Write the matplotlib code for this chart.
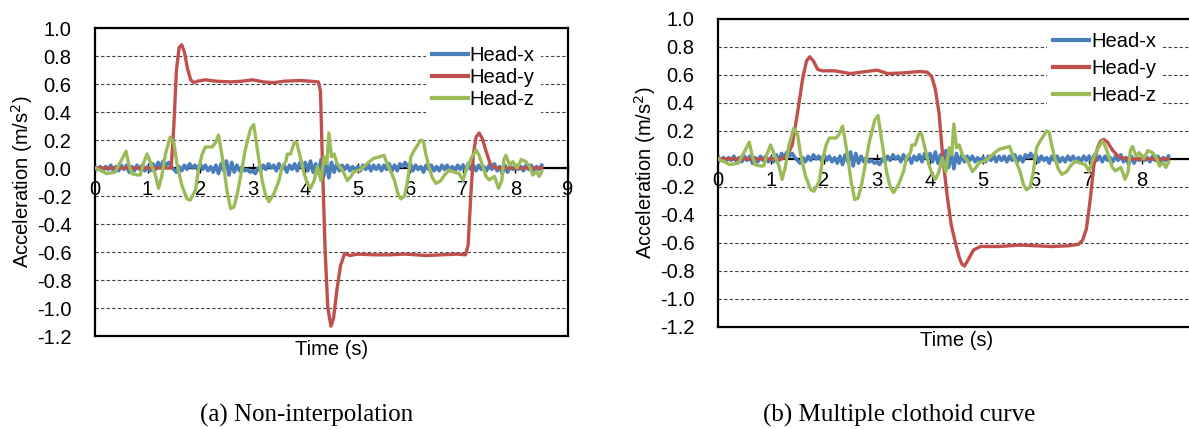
import numpy as np
import matplotlib
matplotlib.use('Agg')
import matplotlib.pyplot as plt

plt.rcParams['font.family'] = 'Liberation Sans'

# Head-x: sampled every 0.05 s from 0 to 8.5 s (same in both panels)
dt_x = 0.05
head_x = [0.00, -0.01, 0.01, -0.02, 0.01, -0.01, 0.02, -0.02, 0.01, -0.02,
          0.02, -0.01, 0.02, -0.03, 0.01, -0.02, 0.02, -0.01, 0.02, -0.02,
          0.01, -0.02, 0.03, -0.01, 0.04, 0.01, 0.05, 0.02, 0.04, 0.01,
          -0.01, -0.03, 0.01, -0.02, 0.02, -0.01, 0.03, 0.00, 0.02, -0.01,
          0.03, -0.01, 0.02, -0.02, 0.01, -0.03, 0.02, -0.04, 0.03, -0.02,
          0.05, -0.05, 0.04, -0.03, 0.02, -0.02, 0.01, -0.02, -0.01, -0.03,
          -0.02, -0.04, 0.00, -0.02, 0.02, -0.01, 0.03, 0.00, 0.02, -0.02,
          0.03, -0.01, 0.02, -0.03, 0.02, -0.01, 0.03, -0.02, 0.04, 0.00,
          0.04, -0.02, 0.05, -0.03, 0.03, -0.04, 0.06, -0.06, 0.05, -0.07,
          0.04, -0.03, 0.03, -0.02, 0.02, -0.01, 0.02, -0.02, 0.01, -0.02,
          0.01, -0.02, 0.02, -0.01, 0.03, -0.02, 0.02, -0.01, 0.02, -0.02,
          0.02, -0.01, 0.03, -0.02, 0.02, -0.02, 0.03, 0.01, 0.04, 0.01,
          0.03, -0.02, 0.02, -0.01, 0.01, -0.03, 0.02, -0.01, 0.02, -0.02,
          0.01, -0.02, 0.02, -0.01, 0.02, -0.02, 0.01, -0.02, 0.02, -0.01,
          0.02, -0.02, 0.03, -0.01, 0.02, -0.02, 0.02, -0.01, 0.01, -0.02,
          0.02, -0.01, 0.03, -0.02, 0.01, -0.04, 0.02, -0.03, 0.01, -0.01,
          0.02, -0.01, 0.01, -0.02, 0.02, -0.01, 0.02, -0.02, 0.01, -0.01, 0.02]
t_x = np.arange(len(head_x)) * dt_x

# Head-z (same in both panels)
t_z = [0, 0.12, 0.22, 0.38, 0.51, 0.59, 0.64, 0.70, 0.80, 0.86,
       0.92, 0.99, 1.05, 1.15, 1.21, 1.27, 1.34, 1.43, 1.50, 1.56,
       1.65, 1.75, 1.81, 1.91, 1.97, 2.04, 2.10, 2.23, 2.29, 2.35,
       2.39, 2.45, 2.51, 2.58, 2.64, 2.70, 2.77, 2.86, 2.96, 3.02,
       3.09, 3.18, 3.25, 3.31, 3.41, 3.50, 3.56, 3.63, 3.66, 3.72,
       3.79, 3.84, 3.91, 3.98, 4.04, 4.10, 4.17, 4.23, 4.30, 4.36,
       4.41, 4.45, 4.50, 4.55, 4.61, 4.71, 4.80, 4.87, 4.93, 5.03,
       5.12, 5.22, 5.31, 5.41, 5.50, 5.57, 5.63, 5.70, 5.76, 5.82,
       5.89, 5.95, 6.01, 6.08, 6.15, 6.20, 6.25, 6.30, 6.36, 6.42,
       6.49, 6.58, 6.65, 6.74, 6.84, 6.93, 7.00, 7.06, 7.16, 7.25,
       7.31, 7.38, 7.44, 7.50, 7.60, 7.68, 7.74, 7.78, 7.82, 7.89,
       7.95, 8.03, 8.11, 8.20, 8.27, 8.33, 8.40, 8.45, 8.50]
head_z = [0, -0.02, -0.04, -0.03, 0.06, 0.12, 0.03, -0.04, -0.05, -0.05,
          0.03, 0.10, 0.045, -0.05, -0.145, -0.06, 0.10, 0.22, 0.18, 0.03,
          -0.12, -0.22, -0.23, -0.16, -0.01, 0.10, 0.15, 0.15, 0.18, 0.235,
          0.15, 0.01, -0.16, -0.29, -0.28, -0.20, -0.06, 0.13, 0.28, 0.31,
          0.13, -0.09, -0.20, -0.24, -0.18, -0.09, 0.01, 0.045, 0.10, 0.10,
          0.18, 0.18, 0.07, -0.04, -0.11, -0.145, -0.09, 0.01, -0.09, 0.08,
          0.03, 0.25, 0.08, 0.10, 0.03, -0.015, -0.09, -0.06, -0.025, -0.015,
          0.01, 0.045, 0.07, 0.08, 0.09, 0.02, -0.025, -0.09, -0.18, -0.22,
          -0.20, -0.09, 0.08, 0.13, 0.17, 0.20, 0.19, 0.09, 0.0, -0.07,
          -0.11, -0.09, -0.05, -0.015, -0.03, -0.04, -0.09, -0.015, 0.07, 0.13,
          0.09, 0.01, -0.06, -0.085, -0.06, -0.145, -0.09, 0.06, 0.09, 0.02,
          0.045, 0.0, 0.06, 0.045, 0.01, -0.05, -0.025, -0.06, -0.025]

# Head-y, (a) non-interpolation
t_y_a = [0, 1.45, 1.50, 1.55, 1.60, 1.65, 1.70, 1.76, 1.82, 1.88,
         1.95, 2.1, 2.3, 2.6, 2.8, 3.0, 3.2, 3.4, 3.6, 3.9,
         4.1, 4.25, 4.29, 4.33, 4.38, 4.43, 4.49, 4.54, 4.60, 4.67,
         4.75, 4.85, 5.0, 5.3, 5.6, 5.9, 6.1, 6.3, 6.6, 6.9,
         7.05, 7.1, 7.15, 7.2, 7.25, 7.31, 7.37, 7.44, 7.52, 7.62, 8.5]
head_y_a = [0, 0, 0.3, 0.7, 0.86, 0.88, 0.83, 0.71, 0.63, 0.61,
            0.62, 0.63, 0.62, 0.615, 0.62, 0.63, 0.615, 0.61, 0.62, 0.625,
            0.62, 0.615, 0.55, 0.0, -0.6, -1.0, -1.13, -1.07, -0.88, -0.70,
            -0.61, -0.625, -0.615, -0.62, -0.62, -0.615, -0.62, -0.625, -0.62, -0.615,
            -0.62, -0.55, -0.2, 0.1, 0.22, 0.25, 0.21, 0.12, 0.03, 0.0, 0.0]

# Head-y, (b) multiple clothoid curve
t_y_b = [0, 1.2, 1.3, 1.4, 1.5, 1.6, 1.67, 1.73, 1.80, 1.88,
         1.97, 2.2, 2.5, 2.8, 3.0, 3.2, 3.5, 3.8, 3.95, 4.03,
         4.1, 4.17, 4.24, 4.32, 4.40, 4.48, 4.55, 4.60, 4.65, 4.72,
         4.82, 4.95, 5.3, 5.7, 6.0, 6.3, 6.6, 6.8, 6.88, 6.95,
         7.02, 7.09, 7.16, 7.22, 7.28, 7.35, 7.45, 7.55, 7.7, 8.5]
head_y_b = [0, 0, 0.02, 0.1, 0.33, 0.58, 0.70, 0.73, 0.70, 0.64,
            0.63, 0.63, 0.61, 0.625, 0.635, 0.61, 0.615, 0.625, 0.62, 0.59,
            0.50, 0.33, 0.02, -0.25, -0.47, -0.60, -0.70, -0.75, -0.765, -0.72,
            -0.65, -0.625, -0.625, -0.615, -0.62, -0.625, -0.62, -0.61, -0.58, -0.50,
            -0.30, -0.05, 0.08, 0.13, 0.14, 0.12, 0.06, 0.02, 0.0, 0.0]

y_ticks = [-1.2, -1.0, -0.8, -0.6, -0.4, -0.2, 0.0, 0.2, 0.4, 0.6, 0.8, 1.0]
y_labels = ['-1.2', '-1.0', '-0.8', '-0.6', '-0.4', '-0.2', '0.0', '0.2', '0.4', '0.6', '0.8', '1.0']
x_ticks = list(range(10))

BLAA = '#4a7ebb'
ROED = '#c0504d'
GROENN = '#9bbb59'
FS = 14.5

W, H = 1189, 429
fig = plt.figure(figsize=(W / 100, H / 100), dpi=100)


def tegn_panel(rect, t_y, head_y, leg_anchor, legend_spacing):
    ax = fig.add_axes(rect)
    ax.plot(t_x, head_x, color=BLAA, lw=2.6, label='Head-x', zorder=3)
    ax.plot(t_y, head_y, color=ROED, lw=2.4, label='Head-y', zorder=4)
    ax.plot(t_z, head_z, color=GROENN, lw=2.4, label='Head-z', zorder=5)
    ax.axhline(0, color='black', lw=1.6, zorder=2)
    ax.set_xlim(0, 9)
    ax.set_ylim(-1.2, 1.0)
    ax.set_yticks(y_ticks)
    ax.set_yticklabels(y_labels)
    ax.tick_params(axis='y', length=0, pad=17, labelsize=FS)
    ax.set_xticks([])
    ax.yaxis.grid(True, linestyle=(0, (3, 2)), color='#444444', lw=0.8)
    for s in ax.spines.values():
        s.set_linewidth(1.6)
    # x-akse som krysser ved y=0
    sek = ax.secondary_xaxis(1.2 / 2.2)
    sek.set_alignment('bottom')
    sek.set_xticks(x_ticks)
    sek.spines['bottom'].set_visible(False)
    sek.spines['top'].set_visible(False)
    sek.tick_params(direction='inout', length=7, width=1, pad=5, labelsize=FS)
    ax.set_xlabel('Time (s)', fontsize=FS, labelpad=3)
    ax.set_ylabel('Acceleration (m/s$^2$)', fontsize=FS, labelpad=1.5)
    leg = ax.legend(loc='upper right', bbox_to_anchor=leg_anchor, frameon=True,
                    fancybox=False, edgecolor='none', framealpha=1,
                    fontsize=FS, handlelength=1.8, handletextpad=0.1,
                    labelspacing=legend_spacing, borderpad=0.3)
    for l in leg.get_lines():
        l.set_linewidth(3)
    return ax


ax1 = tegn_panel([95 / W, 1 - 336 / H, 473 / W, 308 / H], t_y_a, head_y_a, (0.964, 0.995), 0.15)
ax2 = tegn_panel([718 / W, 1 - 327 / H, 477 / W, 308 / H], t_y_b, head_y_b, (0.953, 1.01), 0.4)

fig.text(307 / W, 1 - 415 / H, '(a) Non-interpolation', family='Liberation Serif',
         fontsize=18, ha='center', va='center')
fig.text(899 / W, 1 - 415 / H, '(b) Multiple clothoid curve', family='Liberation Serif',
         fontsize=18, ha='center', va='center')

fig.savefig('out.png', dpi=100)
